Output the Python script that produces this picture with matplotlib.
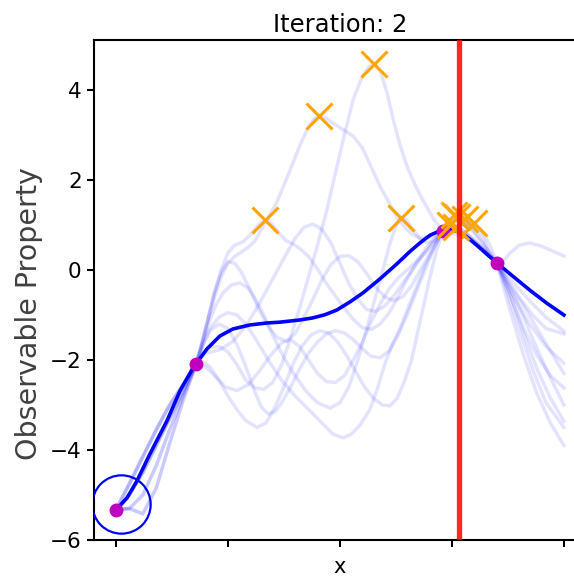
import numpy as np
import matplotlib
matplotlib.use("Agg")
import matplotlib.pyplot as plt

# ---------------- data ----------------
title = "Iteration: 2"
ylabel = "Observable Property"
xlabel = "x"

obs_x = [0.0, 0.179, 0.73, 0.85]
obs_y = [-5.33, -2.09, 0.867, 0.16]

circle_x = [0.012]
circle_y = [-5.2]

next_x = 0.766

mean_x = [0.0, 0.0246, 0.0469, 0.0759, 0.1138, 0.1429, 0.1719, 0.1786, 0.2031, 0.2321, 0.2612,
          0.2991, 0.3371, 0.3661, 0.4107, 0.4397, 0.4665, 0.4933, 0.5223, 0.5513, 0.5893, 0.6272,
          0.6563, 0.6786, 0.7009, 0.7232, 0.7455, 0.7679, 0.7902, 0.8125, 0.8281, 0.8504, 0.8862,
          0.9241, 0.9621, 1.0]
mean_y = [-5.333, -5.067, -4.689, -4.089, -3.356, -2.689, -2.178, -2.089, -1.756, -1.467, -1.311,
          -1.222, -1.178, -1.160, -1.111, -1.065, -0.995, -0.889, -0.711, -0.511, -0.2, 0.135,
          0.41, 0.6, 0.77, 0.87, 0.91, 0.84, 0.68, 0.49, 0.35, 0.156, -0.14,
          -0.45, -0.74, -1.0]

s1_x = [0, 0.03, 0.06, 0.09, 0.12, 0.15, 0.179, 0.19, 0.21, 0.23, 0.25, 0.27, 0.29, 0.31, 0.33,
        0.35, 0.37, 0.39, 0.41, 0.43, 0.45, 0.47, 0.49, 0.51, 0.53, 0.55, 0.565, 0.576, 0.59,
        0.605, 0.62, 0.635, 0.65, 0.665, 0.68, 0.695, 0.71, 0.73, 0.75, 0.78, 0.81, 0.85, 0.87,
        0.90, 0.93, 0.96, 1.0]
s1_y = [-5.33, -5.0, -4.5, -3.9, -3.3, -2.7, -2.09, -1.9, -1.72, -1.7, -1.82, -2.1, -2.45, -2.62,
        -2.65, -2.5, -2.1, -1.5, -0.85, -0.15, 0.55, 1.3, 2.15, 3.0, 3.8, 4.3, 4.52, 4.58, 4.42,
        3.95, 3.3, 2.75, 2.3, 1.95, 1.65, 1.38, 1.12, 0.867, 0.82, 0.72, 0.5, 0.16, -0.15,
        -0.6, -1.0, -1.3, -1.42]

s2_x = [0, 0.03, 0.06, 0.09, 0.12, 0.15, 0.179, 0.19, 0.205, 0.22, 0.235, 0.25, 0.265, 0.28,
        0.295, 0.31, 0.333, 0.359, 0.388, 0.41, 0.426, 0.44, 0.453, 0.468, 0.484, 0.505, 0.529,
        0.551, 0.574, 0.59, 0.605, 0.627, 0.645, 0.66, 0.68, 0.70, 0.73, 0.76, 0.79, 0.82, 0.85,
        0.88, 0.92, 0.96, 1.0]
s2_y = [-5.33, -4.75, -4.15, -3.55, -3.0, -2.55, -2.09, -1.75, -1.15, -0.6, -0.15, 0.15, 0.3, 0.4,
        0.5, 0.64, 1.04, 1.5, 2.2, 2.75, 3.1, 3.33, 3.42, 3.38, 3.27, 3.13, 2.98, 2.7, 2.2, 1.85,
        1.58, 1.18, 0.95, 0.8, 0.7, 0.72, 0.867, 0.9, 0.7, 0.45, 0.16, -0.2, -0.65, -1.05, -1.36]

s3_x = [0, 0.03, 0.06, 0.09, 0.12, 0.15, 0.179, 0.19, 0.205, 0.22, 0.235, 0.25, 0.265, 0.283,
        0.30, 0.318, 0.333, 0.348, 0.366, 0.38, 0.395, 0.41, 0.43, 0.45, 0.47, 0.49, 0.51, 0.53,
        0.55, 0.57, 0.59, 0.61, 0.63, 0.65, 0.67, 0.69, 0.71, 0.73, 0.75, 0.78, 0.81, 0.85, 0.88,
        0.91, 0.94, 0.97, 1.0]
s3_y = [-5.33, -5.3, -5.0, -4.35, -3.55, -2.8, -2.09, -1.7, -1.1, -0.5, 0.0, 0.38, 0.55, 0.62,
        0.78, 1.0, 1.11, 1.02, 0.8, 0.65, 0.58, 0.48, 0.3, 0.02, -0.3, -0.58, -0.85, -1.1, -1.28,
        -1.32, -1.2, -0.95, -0.6, -0.2, 0.15, 0.45, 0.7, 0.867, 0.92, 0.8, 0.55, 0.16, -0.55,
        -1.4, -2.2, -2.85, -3.36]

s4_x = [0, 0.03, 0.06, 0.09, 0.12, 0.15, 0.179, 0.195, 0.21, 0.225, 0.24, 0.258, 0.277, 0.295,
        0.31, 0.33, 0.35, 0.375, 0.40, 0.425, 0.45, 0.478, 0.50, 0.52, 0.54, 0.56, 0.583, 0.60,
        0.612, 0.624, 0.636, 0.648, 0.663, 0.68, 0.694, 0.71, 0.73, 0.75, 0.78, 0.81, 0.85, 0.88,
        0.92, 0.96, 1.0]
s4_y = [-5.33, -5.3, -5.42, -4.85, -3.85, -2.9, -2.09, -1.55, -1.1, -0.75, -0.5, -0.33, -0.29,
        -0.4, -0.62, -1.0, -1.45, -1.95, -2.35, -2.7, -2.95, -3.07, -2.95, -2.6, -2.0, -1.3,
        -0.47, 0.15, 0.6, 0.95, 1.16, 1.12, 0.9, 0.68, 0.6, 0.65, 0.867, 0.9, 0.78, 0.52, 0.16,
        -0.45, -1.15, -1.7, -2.07]

s5_x = [0, 0.03, 0.06, 0.09, 0.12, 0.15, 0.179, 0.20, 0.23, 0.26, 0.29, 0.32, 0.35, 0.38, 0.40,
        0.42, 0.44, 0.46, 0.48, 0.50, 0.52, 0.54, 0.56, 0.58, 0.60, 0.62, 0.64, 0.66, 0.68, 0.70,
        0.73, 0.742, 0.755, 0.77, 0.79, 0.82, 0.85, 0.87, 0.90, 0.93, 0.96, 1.0]
s5_y = [-5.33, -5.0, -4.5, -3.9, -3.3, -2.7, -2.09, -1.85, -1.78, -1.6, -1.25, -0.75, -0.2, 0.35,
        0.7, 0.95, 1.02, 0.9, 0.6, 0.15, -0.3, -0.65, -0.88, -0.92, -0.8, -0.58, -0.3, -0.02,
        0.25, 0.52, 0.867, 1.1, 1.22, 1.18, 0.98, 0.6, 0.16, -0.4, -1.3, -2.2, -2.95, -3.5]

s6_x = [0, 0.03, 0.06, 0.09, 0.12, 0.15, 0.179, 0.195, 0.21, 0.23, 0.25, 0.27, 0.29, 0.31, 0.34,
        0.37, 0.40, 0.43, 0.46, 0.485, 0.507, 0.525, 0.545, 0.567, 0.585, 0.60, 0.617, 0.634,
        0.65, 0.67, 0.69, 0.71, 0.73, 0.745, 0.761, 0.775, 0.80, 0.825, 0.85, 0.88, 0.91, 0.94,
        0.97, 1.0]
s6_y = [-5.33, -4.75, -4.15, -3.55, -3.0, -2.55, -2.09, -1.65, -1.3, -1.05, -0.95, -1.0, -1.2,
        -1.5, -2.0, -2.45, -2.8, -3.1, -3.4, -3.65, -3.73, -3.65, -3.45, -3.1, -2.6, -2.1, -1.65,
        -1.3, -0.9, -0.4, 0.1, 0.5, 0.867, 1.08, 1.18, 1.12, 0.82, 0.5, 0.16, -0.9, -1.9, -2.75,
        -3.4, -3.9]

s7_x = [0, 0.03, 0.06, 0.09, 0.12, 0.15, 0.179, 0.195, 0.21, 0.23, 0.25, 0.27, 0.29, 0.315, 0.335,
        0.355, 0.375, 0.395, 0.415, 0.435, 0.455, 0.475, 0.495, 0.515, 0.535, 0.555, 0.575,
        0.595, 0.612, 0.628, 0.645, 0.66, 0.68, 0.70, 0.715, 0.73, 0.745, 0.765, 0.79, 0.82,
        0.85, 0.88, 0.91, 0.94, 0.97, 1.0]
s7_y = [-5.33, -5.3, -5.0, -4.35, -3.55, -2.8, -2.09, -2.05, -2.15, -2.45, -2.8, -3.1, -3.35,
        -3.5, -3.4, -3.05, -2.6, -2.1, -1.7, -1.45, -1.35, -1.4, -1.6, -1.9, -2.25, -2.6, -2.85,
        -3.0, -3.02, -2.85, -2.45, -2.0, -1.1, -0.2, 0.4, 0.867, 1.0, 0.95, 0.75, 0.48, 0.16,
        -0.55, -1.3, -1.9, -2.35, -2.62]

s8_x = [0, 0.03, 0.06, 0.09, 0.12, 0.15, 0.179, 0.195, 0.21, 0.23, 0.25, 0.27, 0.29, 0.31, 0.325,
        0.34, 0.355, 0.37, 0.39, 0.41, 0.43, 0.45, 0.47, 0.49, 0.51, 0.53, 0.55, 0.57, 0.59,
        0.61, 0.63, 0.65, 0.67, 0.69, 0.71, 0.73, 0.745, 0.759, 0.78, 0.81, 0.85, 0.88, 0.91,
        0.94, 0.97, 1.0]
s8_y = [-5.33, -5.3, -5.42, -4.85, -3.85, -2.9, -2.09, -1.65, -1.35, -1.2, -1.3, -1.65, -2.15,
        -2.7, -3.05, -3.2, -3.15, -2.95, -2.6, -2.2, -1.85, -1.6, -1.42, -1.35, -1.4, -1.55,
        -1.75, -1.92, -1.95, -1.8, -1.45, -1.0, -0.5, 0.0, 0.48, 0.867, 0.95, 0.96, 0.85, 0.55,
        0.16, -0.4, -1.05, -1.75, -2.4, -3.0]

s9_x = [0, 0.03, 0.06, 0.09, 0.12, 0.15, 0.179, 0.19, 0.205, 0.22, 0.235, 0.25, 0.265, 0.28,
        0.30, 0.32, 0.34, 0.36, 0.38, 0.40, 0.42, 0.44, 0.46, 0.48, 0.50, 0.52, 0.54, 0.56, 0.58,
        0.60, 0.62, 0.64, 0.66, 0.68, 0.70, 0.73, 0.755, 0.779, 0.80, 0.82, 0.835, 0.85, 0.865,
        0.88, 0.90, 0.924, 0.95, 0.975, 1.0]
s9_y = [-5.33, -5.0, -4.5, -3.9, -3.3, -2.7, -2.09, -1.7, -1.1, -0.5, -0.05, 0.18, 0.15, -0.05,
        -0.45, -0.9, -1.25, -1.5, -1.58, -1.42, -1.05, -0.65, -0.22, 0.12, 0.3, 0.32, 0.18, -0.08,
        -0.38, -0.6, -0.68, -0.6, -0.35, 0.0, 0.35, 0.867, 1.07, 1.13, 1.0, 0.7, 0.32, 0.16, 0.2,
        0.38, 0.55, 0.6, 0.53, 0.42, 0.31]

s10_x = [0, 0.03, 0.06, 0.09, 0.12, 0.15, 0.179, 0.20, 0.22, 0.245, 0.27, 0.295, 0.32, 0.345,
         0.37, 0.39, 0.41, 0.43, 0.45, 0.47, 0.49, 0.51, 0.53, 0.55, 0.57, 0.59, 0.61, 0.63, 0.65,
         0.67, 0.69, 0.71, 0.73, 0.75, 0.775, 0.799, 0.815, 0.835, 0.85, 0.88, 0.91, 0.94, 0.97,
         1.0]
s10_y = [-5.33, -4.75, -4.15, -3.55, -3.0, -2.55, -2.09, -2.15, -2.35, -2.6, -2.68, -2.55, -2.25,
         -1.9, -1.62, -1.55, -1.7, -2.0, -2.3, -2.48, -2.5, -2.35, -2.0, -1.6, -1.15, -0.75,
         -0.42, -0.18, 0.0, 0.18, 0.38, 0.6, 0.867, 0.95, 1.01, 1.04, 0.9, 0.55, 0.16, -0.35,
         -0.8, -1.3, -1.8, -2.3]

samples = [(s1_x, s1_y), (s2_x, s2_y), (s3_x, s3_y), (s4_x, s4_y), (s5_x, s5_y),
           (s6_x, s6_y), (s7_x, s7_y), (s8_x, s8_y), (s9_x, s9_y), (s10_x, s10_y)]

x_ticks = [0, 0.25, 0.5, 0.75, 1.0]
y_ticks = [-6, -4, -2, 0, 2, 4]

# ---------------- plot ----------------
fig = plt.figure(figsize=(5.74, 5.76), dpi=100)
ax = fig.add_axes([0.1629, 0.0625, 0.8585, 0.8681])

for sx, sy in samples:
    ax.plot(sx, sy, color="blue", alpha=0.11, lw=2.5, zorder=1, solid_joinstyle="round")

ax.plot(mean_x, mean_y, color="blue", lw=2.6, zorder=3, solid_joinstyle="round")
ax.plot(obs_x, obs_y, "o", color="m", ms=10, zorder=4, mec="none")
ax.plot(circle_x, circle_y, "o", mfc="none", mec="blue", ms=42, mew=1.6, zorder=4)

for sx, sy in samples:
    i = int(np.argmax(sy))
    ax.plot([sx[i]], [sy[i]], "x", color="orange", ms=19, mew=2.2, zorder=5)

ax.axvline(next_x, color="red", alpha=0.85, lw=3.8, zorder=6)

ax.set_xlim(-0.05, 1.05)
ax.set_ylim(-6, 5.11)
ax.set_xticks(x_ticks)
ax.set_xticklabels([])
ax.set_yticks(y_ticks)
ax.tick_params(labelsize=15.5, length=5, width=1.5)
for sp in ax.spines.values():
    sp.set_linewidth(1.5)

ax.set_title(title, fontsize=17.5)
ax.set_ylabel(ylabel, fontsize=20.5, color="#404040")
ax.yaxis.set_label_coords(-0.1025, 0.452)
ax.set_xlabel(xlabel, fontsize=15)

fig.savefig("out.png", dpi=100)
